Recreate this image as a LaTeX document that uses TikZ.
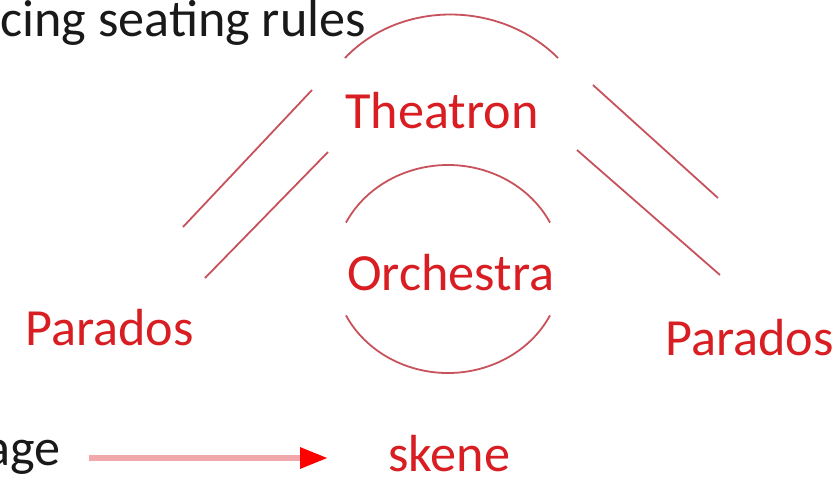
\documentclass[tikz,border=0pt]{standalone}
\usepackage{fontspec}
\setmainfont{Carlito}
\usepackage{xcolor}
\usetikzlibrary{arrows.meta, positioning}

\definecolor{greekred}{RGB}{216,30,34}
\definecolor{outline}{RGB}{200,82,92}
\definecolor{shaft}{RGB}{242,168,170}

\begin{document}
\begin{tikzpicture}[
  x=0.5pt, y=-0.5pt,
  label/.style={inner sep=0pt, anchor=base west, font=\fontsize{26.1}{30}\selectfont},
  part/.style={label, text=greekred},
  wall/.style={draw=outline, line width=0.9pt},
  arrow/.style={draw=shaft, line width=3pt, -{Triangle[length=14pt, width=10pt, color=red]}}
]
  \useasboundingbox (0,0) rectangle (837,479);

  % texts
  \node[label, text=black!90] (rules) at (0,36) {cing seating rules};
  \node[part] (theatron) at (345,128) {Theatron};
  \node[part] (orchestra) at (347,290) {Orchestra};
  \node[part] (paradosl) at (25,345) {Parados};
  \node[part] (paradosr) at (665,355) {Parados};
  \node[label, text=black!90, anchor=base east] (stage) at (61,465) {age};
  \node[part] (skene) at (388,471) {skene};

  % theatron walls
  \draw[wall] (345,58) .. controls (400,0) and (500,0) .. (558,58);
  \draw[wall] (183,227) -- (312,90);
  \draw[wall] (205,278) -- (328,152);
  \draw[wall] (593,85) -- (718,198);
  \draw[wall] (577,150) -- (720,275);

  % orchestra circle
  \draw[wall] (448,269) ++(26.5:114 and 104) arc[start angle=26.5, end angle=153.5, x radius=114, y radius=104];
  \draw[wall] (448,269) ++(206.5:114 and 104) arc[start angle=206.5, end angle=333.5, x radius=114, y radius=104];

  \draw[arrow] ([xshift=14pt, yshift=3.5pt]stage.base east) -- ([xshift=-30pt, yshift=6.5pt]skene.base west);
\end{tikzpicture}
\end{document}
